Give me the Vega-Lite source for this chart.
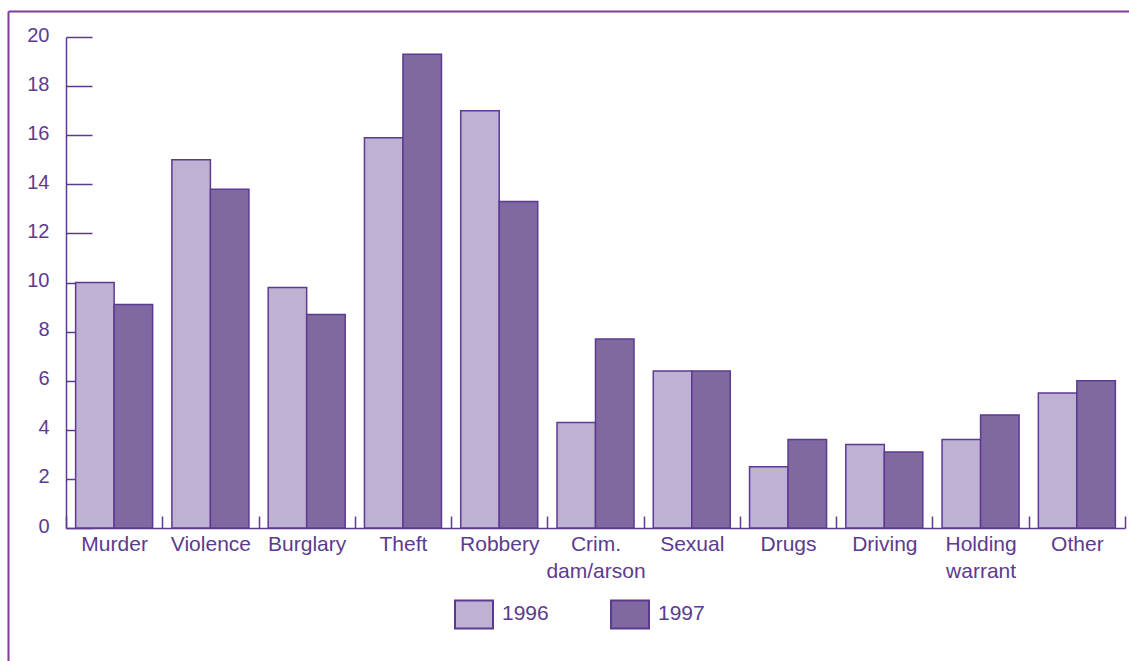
{
  "$schema": "https://vega.github.io/schema/vega-lite/v6.json",
  "width": 1121,
  "height": 650,
  "autosize": {"type": "none"},
  "padding": {"left": 8, "top": 11, "right": 0, "bottom": 0},
  "background": "white",
  "config": {
    "view": {"stroke": null},
    "font": "Liberation Sans, Arial, sans-serif",
    "axis": {"grid": false, "labelFont": "Liberation Sans, Arial, sans-serif"},
    "legend": {"labelFont": "Liberation Sans, Arial, sans-serif"}
  },
  "data": {
    "values": [
      {"Offence": "Murder", "Year": "1996", "Percent": 10.0},
      {"Offence": "Murder", "Year": "1997", "Percent": 9.1},
      {"Offence": "Violence", "Year": "1996", "Percent": 15.0},
      {"Offence": "Violence", "Year": "1997", "Percent": 13.8},
      {"Offence": "Burglary", "Year": "1996", "Percent": 9.8},
      {"Offence": "Burglary", "Year": "1997", "Percent": 8.7},
      {"Offence": "Theft", "Year": "1996", "Percent": 15.9},
      {"Offence": "Theft", "Year": "1997", "Percent": 19.3},
      {"Offence": "Robbery", "Year": "1996", "Percent": 17.0},
      {"Offence": "Robbery", "Year": "1997", "Percent": 13.3},
      {"Offence": "Crim. dam/arson", "Year": "1996", "Percent": 4.3},
      {"Offence": "Crim. dam/arson", "Year": "1997", "Percent": 7.7},
      {"Offence": "Sexual", "Year": "1996", "Percent": 6.4},
      {"Offence": "Sexual", "Year": "1997", "Percent": 6.4},
      {"Offence": "Drugs", "Year": "1996", "Percent": 2.5},
      {"Offence": "Drugs", "Year": "1997", "Percent": 3.6},
      {"Offence": "Driving", "Year": "1996", "Percent": 3.4},
      {"Offence": "Driving", "Year": "1997", "Percent": 3.1},
      {"Offence": "Holding warrant", "Year": "1996", "Percent": 3.6},
      {"Offence": "Holding warrant", "Year": "1997", "Percent": 4.6},
      {"Offence": "Other", "Year": "1996", "Percent": 5.5},
      {"Offence": "Other", "Year": "1997", "Percent": 6.0}
    ]
  },
  "layer": [
    {
      "description": "Outer frame: top and left edges drawn as bare axis domains",
      "mark": {"type": "point", "opacity": 0},
      "encoding": {
        "x": {
          "field": "Offence", "type": "nominal", "sort": null,
          "scale": {"type": "point"},
          "axis": {"orient": "top", "title": null, "labels": false, "ticks": false, "domainColor": "#7E3D98", "domainWidth": 2}
        },
        "y": {
          "field": "Percent", "type": "quantitative",
          "axis": {"orient": "left", "title": null, "labels": false, "ticks": false, "domainColor": "#7E3D98", "domainWidth": 2}
        }
      }
    },
    {
      "mark": {"type": "bar", "stroke": "#5D3A91", "strokeWidth": 1.5},
      "encoding": {
        "x": {
          "field": "Offence", "type": "nominal", "sort": null,
          "scale": {"range": [58, 1117], "paddingInner": 0, "paddingOuter": 0},
          "axis": {
            "orient": "bottom", "offset": -133, "title": null, "labelAngle": 0,
            "tickBand": "extent", "tickSize": -12, "tickWidth": 1.5, "tickColor": "#5D3A91",
            "domainColor": "#5D3A91", "domainWidth": 1.5,
            "labelPadding": 17, "labelFontSize": 21, "labelColor": "#5C3B8E", "labelLineHeight": 27,
            "labelExpr": "datum.label == 'Crim. dam/arson' ? ['Crim.', 'dam/arson'] : datum.label == 'Holding warrant' ? ['Holding', 'warrant'] : datum.label"
          }
        },
        "xOffset": {"field": "Year", "type": "nominal", "scale": {"paddingInner": 0, "paddingOuter": 0.25}},
        "y": {
          "field": "Percent", "type": "quantitative",
          "scale": {"domain": [0, 20], "range": [517, 26], "nice": false},
          "axis": {
            "orient": "left", "offset": -58, "title": null,
            "values": [0, 2, 4, 6, 8, 10, 12, 14, 16, 18, 20],
            "tickSize": -26, "tickWidth": 1.5, "tickColor": "#5D3A91",
            "domainColor": "#5D3A91", "domainWidth": 1.5,
            "labelPadding": 43, "labelOffset": -2, "labelFontSize": 20, "labelColor": "#5C3B8E"
          }
        },
        "color": {
          "field": "Year", "type": "nominal",
          "scale": {"range": ["#BFB1D3", "#8068A0"]},
          "legend": {
            "orient": "none", "legendX": 446, "legendY": 583, "direction": "horizontal",
            "title": null, "padding": 0, "offset": 0,
            "symbolType": "M-1,-0.737H1V0.737H-1Z", "symbolSize": 1444,
            "symbolStrokeColor": "#5D3A91", "symbolStrokeWidth": 2, "symbolOpacity": 1,
            "labelFontSize": 21, "labelColor": "#5C3B8E", "labelOffset": 8, "columnPadding": 58
          }
        }
      }
    }
  ],
  "resolve": {
    "scale": {"x": "independent", "y": "independent"},
    "axis": {"x": "independent", "y": "independent"}
  }
}
